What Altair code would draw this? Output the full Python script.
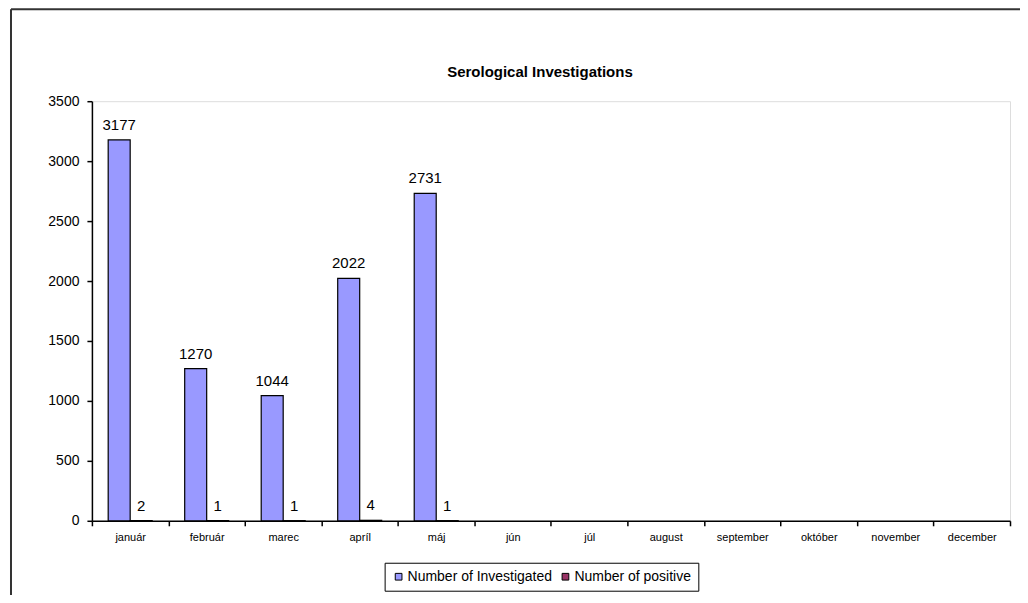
import altair as alt
import pandas as pd

months = ["január", "február", "marec", "apríl", "máj", "jún", "júl", "august",
          "september", "október", "november", "december"]
investigated = [3177, 1270, 1044, 2022, 2731, None, None, None, None, None, None, None]
positive = [2, 1, 1, 4, 1, None, None, None, None, None, None, None]
series = ["Number of Investigated", "Number of positive"]
colors = ["#9999FF", "#993366"]
y_ticks = [0, 500, 1000, 1500, 2000, 2500, 3000, 3500]
title_text = "Serological Investigations"

rows = []
for i, m in enumerate(months):
    rows.append({"month": m, "series": series[0], "value": investigated[i]})
    rows.append({"month": m, "series": series[1], "value": positive[i]})
df = pd.DataFrame(rows)

FONT = "Liberation Sans"
W, H = 919, 420

x = alt.X("month:N", sort=months, title=None,
          scale=alt.Scale(domain=months, paddingInner=0, paddingOuter=0),
          axis=alt.Axis(tickBand="extent", labelAngle=0, labelFontSize=11, labelFont=FONT,
                        labelColor="#000", domainColor="#000", tickColor="#000",
                        tickSize=5, domainWidth=1.5, tickWidth=1.5, labelPadding=6))
xoff = alt.XOffset("series:N", sort=series,
                   scale=alt.Scale(domain=series, paddingInner=0, paddingOuter=0.74))
y = alt.Y("value:Q", title=None,
          scale=alt.Scale(domain=[0, 3500], nice=False),
          axis=alt.Axis(values=y_ticks, format="d", grid=False, labelFontSize=14,
                        labelFont=FONT, labelColor="#000", domainColor="#000",
                        tickColor="#000", tickSize=5, domainWidth=1.5, tickWidth=1.5,
                        labelPadding=8))

base = alt.Chart(df).transform_filter("datum.value != null")

bars = base.mark_bar(stroke="#000", strokeWidth=1.2).encode(
    x=x, xOffset=xoff, y=y,
    color=alt.Color("series:N", sort=series,
                    scale=alt.Scale(domain=series, range=colors),
                    legend=alt.Legend(title=None, orient="none", direction="horizontal",
                                      legendX=293, legendY=462, symbolType="square",
                                      symbolSize=45, symbolStrokeColor="#000",
                                      symbolStrokeWidth=1, labelFontSize=14,
                                      labelFont=FONT, labelColor="#000",
                                      strokeColor="#000",
                                      padding=7, columnPadding=6,
                                      symbolOffset=0, labelOffset=2)),
)

labels = base.mark_text(baseline="bottom", align="center", dy=-7, fontSize=15,
                        font=FONT, color="#000").encode(
    x=x, xOffset=xoff, y=y, text=alt.Text("value:Q"))

title_df = pd.DataFrame({"t": [title_text]})
title = alt.Chart(title_df).mark_text(font=FONT, fontSize=15, fontWeight="bold",
                                      color="#000", align="center",
                                      baseline="middle").encode(
    x=alt.value(W / 2 - 11), y=alt.value(-29), text="t:N")

border_left = alt.Chart(title_df).mark_rule(color="#333", strokeWidth=2).encode(
    x=alt.value(-81), y=alt.value(-92), y2=alt.value(500))
border_top = alt.Chart(title_df).mark_rule(color="#333", strokeWidth=2).encode(
    x=alt.value(-81), x2=alt.value(940), y=alt.value(-92))

chart = alt.layer(bars, labels, title, border_left, border_top).properties(
    width=W, height=H,
    autosize=alt.AutoSizeParams(type="none"),
    padding={"left": 84, "top": 93, "right": 10, "bottom": 74},
).configure_view(stroke=None).configure(background="white")

chart.save("out.html", embed_options={"renderer": "svg", "actions": False})
